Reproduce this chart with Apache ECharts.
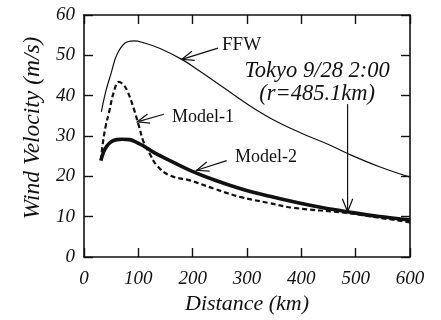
<!DOCTYPE html>
<html>
<head>
<meta charset="utf-8">
<script src="https://cdn.jsdelivr.net/npm/echarts@6/dist/echarts.min.js"></script>
<style>
html,body{margin:0;padding:0;background:#fff;}
#chart{width:441px;height:320px;}
</style>
</head>
<body>
<div id="chart"></div>
<script>
// ---- data ----
var xTicks = [0, 100, 200, 300, 400, 500, 600];
var yTicks = [0, 10, 20, 30, 40, 50, 60];

var ffwKm = [32, 40, 50, 60, 75, 92, 110, 140, 180, 214, 260, 305, 350, 400, 450, 486, 545, 600];
var ffwV  = [36, 41, 45.6, 50, 53, 53.6, 53.1, 51.7, 49, 46, 41.7, 37.5, 33.9, 30.7, 27.9, 25.6, 22.3, 19.8];

var m1Km = [31, 35, 40, 46, 55, 64, 72, 80, 92, 101, 110, 121, 134, 158, 195, 240, 287, 340, 385, 485, 540, 600];
var m1V  = [24, 28.5, 32.5, 35.8, 41, 43.4, 42.8, 41.1, 36.6, 32.5, 28.4, 25.6, 22.7, 20.2, 19.0, 16.9, 14.9, 13.4, 12.2, 10.9, 9.8, 8.6];

var m2Km = [31, 36, 42, 50, 60, 70, 84, 100, 109, 130, 158, 195, 240, 287, 340, 398, 440, 485, 540, 600];
var m2V  = [23.9, 26, 27.5, 28.6, 29.1, 29.2, 29.1, 28.2, 27.6, 25.8, 23.9, 21.5, 19.1, 17.0, 15.1, 13.3, 12.2, 11.2, 10.1, 9.2];

var tokyoR = 485.1;

function pairs(xs, ys) { return xs.map(function (x, i) { return [x, ys[i]]; }); }

var serif = '"Liberation Serif", "DejaVu Serif", serif';
var ink = '#111';

var chart = echarts.init(document.getElementById('chart'), null, { renderer: 'canvas' });

var commonX = {
  type: 'value', min: xTicks[0], max: xTicks[xTicks.length - 1], interval: 100,
  splitLine: { show: false },
  axisLine: { show: true, onZero: false, lineStyle: { color: ink, width: 1.6 } },
  axisTick: { show: true, inside: true, length: 9, lineStyle: { color: ink, width: 1.4 } }
};
var commonY = {
  type: 'value', min: yTicks[0], max: yTicks[yTicks.length - 1], interval: 10,
  splitLine: { show: false },
  axisLine: { show: true, onZero: false, lineStyle: { color: ink, width: 1.6 } },
  axisTick: { show: true, inside: true, length: 9, lineStyle: { color: ink, width: 1.4 } }
};

var option = {
  animation: false,
  backgroundColor: '#fff',
  grid: { left: 84, right: 31, top: 15, bottom: 61 },
  xAxis: [
    Object.assign({}, commonX, {
      position: 'bottom',
      name: 'Distance (km)', nameLocation: 'middle', nameGap: 36,
      nameTextStyle: { fontFamily: serif, fontStyle: 'italic', fontSize: 22, color: ink },
      axisLabel: { margin: 12, fontFamily: serif, fontStyle: 'italic', fontSize: 19, color: ink }
    }),
    Object.assign({}, commonX, { position: 'top', axisLabel: { show: false } })
  ],
  yAxis: [
    Object.assign({}, commonY, {
      position: 'left',
      axisLabel: { margin: 9, fontFamily: serif, fontStyle: 'italic', fontSize: 19, color: ink }
    }),
    Object.assign({}, commonY, { position: 'right', axisLabel: { show: false } })
  ],
  series: [
    { name: 'FFW', type: 'line', data: pairs(ffwKm, ffwV), smooth: 0.4, showSymbol: false,
      lineStyle: { color: ink, width: 1.2 } },
    { name: 'Model-1', type: 'line', data: pairs(m1Km, m1V), smooth: 0.4, showSymbol: false,
      lineStyle: { color: ink, width: 2.2, type: [5, 3] } },
    { name: 'Model-2', type: 'line', data: pairs(m2Km, m2V), smooth: 0.4, showSymbol: false,
      lineStyle: { color: ink, width: 3.6 } }
  ]
};
chart.setOption(option);

// ---- annotations, anchored in data coordinates ----
function px(pt) { return chart.convertToPixel({ xAxisIndex: 0, yAxisIndex: 0 }, pt); }

function arrow(tail, head, headLen) {
  var a = px(tail), b = px(head);
  var ang = Math.atan2(a[1] - b[1], a[0] - b[0]);
  var s = 0.38;
  var h1 = [b[0] + headLen * Math.cos(ang + s), b[1] + headLen * Math.sin(ang + s)];
  var h2 = [b[0] + headLen * Math.cos(ang - s), b[1] + headLen * Math.sin(ang - s)];
  return [
    { type: 'polyline', shape: { points: [a, b] }, style: { stroke: ink, lineWidth: 1.2, fill: null } },
    { type: 'polyline', shape: { points: [h1, b, h2] }, style: { stroke: ink, lineWidth: 1.2, fill: null } }
  ];
}

function label(text, at, size, italic) {
  var p = px(at);
  return { type: 'text', x: p[0], y: p[1],
    style: { text: text, fill: ink, font: (italic ? 'italic ' : '') + size + 'px ' + serif,
             textAlign: 'center', textVerticalAlign: 'middle' } };
}

var g = [];
g = g.concat(arrow([246.6, 51.8], [180, 49], 13));
g = g.concat(arrow([147, 35.4], [98, 33.5], 13));
g = g.concat(arrow([262.6, 23.9], [207.4, 21.5], 13));
g = g.concat(arrow([tokyoR, 37.9], [tokyoR, 11.2], 14));
g.push(label('FFW', [290, 52.5], 19, false));
g.push(label('Model-1', [219, 34.7], 18, false));
g.push(label('Model-2', [335, 24.8], 18, false));
g.push(label('Tokyo 9/28 2:00', [429, 46], 22.5, true));
g.push(label('(r=485.1km)', [429, 40.4], 22.5, true));

// y-axis title, placed left of the axis (slightly above grid centre as in the reference)
var yt = px([0, 32]);
g.push({ type: 'text', x: yt[0] - 51, y: yt[1], rotation: Math.PI / 2,
  style: { text: 'Wind Velocity (m/s)', fill: ink, font: 'italic 23.5px ' + serif,
           textAlign: 'center', textVerticalAlign: 'middle' } });

chart.setOption({ graphic: { elements: g } });
</script>
</body>
</html>
